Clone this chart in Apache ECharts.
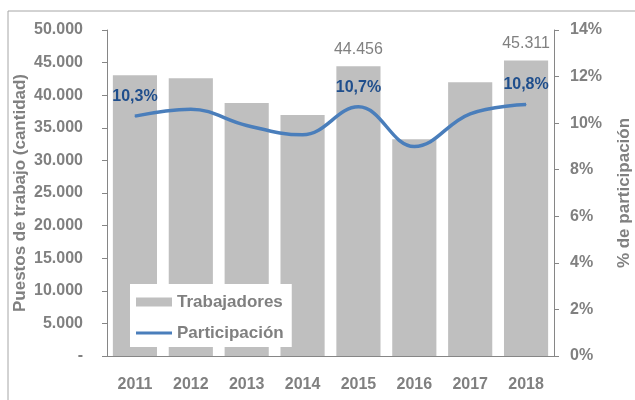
<!DOCTYPE html>
<html>
<head>
<meta charset="utf-8">
<script src="https://cdn.jsdelivr.net/npm/echarts@6/dist/echarts.min.js"></script>
<style>
  html, body { margin: 0; padding: 0; background: #fff; }
  #chart { width: 635px; height: 400px; }
</style>
</head>
<body>
<div id="chart"></div>
<script>
const years = ["2011", "2012", "2013", "2014", "2015", "2016", "2017", "2018"];
const trabajadores = [43050, 42600, 38800, 36950, 44456, 33250, 42000, 45311];
const participacion = [10.3, 10.6, 9.9, 9.5, 10.7, 9.0, 10.4, 10.8];
// only these years carry a value label in the original
const barLabelYears = ["2015", "2018"];
const lineLabelYears = ["2011", "2015", "2018"];

const gray = "#808080";
const axisGray = "#868686";

function fmtMiles(v) {
  if (v === 0) return "-";
  return String(v).replace(/\B(?=(\d{3})+(?!\d))/g, ".");
}

const chart = echarts.init(document.getElementById("chart"));

const option = {
  animation: false,
  textStyle: { fontFamily: "Liberation Sans, Arial, sans-serif" },
  graphic: [
    {
      type: "rect",
      shape: { x: 8, y: 11, width: 700, height: 500 },
      style: { fill: "none", stroke: "#a6a6a6", lineWidth: 1 },
      z: -10,
    },
  ],
  grid: { left: 107, right: 81, top: 30, bottom: 44, outerBoundsMode: "none" },
  legend: {
    left: 130,
    top: 284,
    orient: "vertical",
    backgroundColor: "#fff",
    padding: [8, 8, 4, 6],
    itemWidth: 36,
    itemHeight: 9,
    itemGap: 11,
    textStyle: { color: gray, fontSize: 17, fontWeight: "bold", lineHeight: 20 },
    data: [
      { name: "Trabajadores", icon: "rect" },
      { name: "Participación", icon: "path://M0,0H36V3H0Z" },
    ],
  },
  xAxis: {
    type: "category",
    data: years,
    axisLine: { lineStyle: { color: axisGray } },
    axisTick: { length: 5, lineStyle: { color: axisGray } },
    axisLabel: { color: gray, fontSize: 16, fontWeight: "bold", margin: 21 },
  },
  yAxis: [
    {
      type: "value",
      min: 0,
      max: 50000,
      interval: 5000,
      name: "Puestos de trabajo (cantidad)",
      nameLocation: "middle",
      nameRotate: 90,
      nameGap: 78,
      nameMoveOverlap: false,
      nameTextStyle: { color: gray, fontSize: 17, fontWeight: "bold" },
      splitLine: { show: false },
      axisLine: { show: true, lineStyle: { color: axisGray } },
      axisTick: { show: true, length: 5, lineStyle: { color: axisGray } },
      axisLabel: { color: gray, fontSize: 16, fontWeight: "bold", margin: 24, formatter: fmtMiles },
    },
    {
      type: "value",
      min: 0,
      max: 14,
      interval: 2,
      position: "right",
      name: "% de participación",
      nameLocation: "middle",
      nameRotate: 90,
      nameGap: 62,
      nameTextStyle: { color: gray, fontSize: 17, fontWeight: "bold" },
      splitLine: { show: false },
      axisLine: { show: true, lineStyle: { color: axisGray } },
      axisTick: { show: true, length: 5, lineStyle: { color: axisGray } },
      axisLabel: { color: gray, fontSize: 16, fontWeight: "bold", margin: 16, formatter: "{value}%" },
    },
  ],
  series: [
    {
      name: "Trabajadores",
      type: "bar",
      barCategoryGap: "21%",
      itemStyle: { color: "#bfbfbf" },
      data: trabajadores.map((v, i) => ({
        value: v,
        label: {
          show: barLabelYears.includes(years[i]),
          position: "top",
          distance: 9,
          color: gray,
          fontSize: 16,
          formatter: (p) => fmtMiles(p.value),
        },
      })),
    },
    {
      name: "Participación",
      type: "line",
      yAxisIndex: 1,
      smooth: 0.4,
      symbol: "circle",
      symbolSize: 1,
      showSymbol: true,
      lineStyle: { color: "#4a7ebb", width: 3.5 },
      itemStyle: { color: "#4a7ebb" },
      data: participacion.map((v, i) => ({
        value: v,
        label: {
          show: lineLabelYears.includes(years[i]),
          position: "top",
          distance: 11,
          color: "#1f4e8c",
          fontSize: 16,
          fontWeight: "bold",
          formatter: (p) => p.value.toFixed(1).replace(".", ",") + "%",
        },
      })),
    },
  ],
};

chart.setOption(option);
</script>
</body>
</html>
